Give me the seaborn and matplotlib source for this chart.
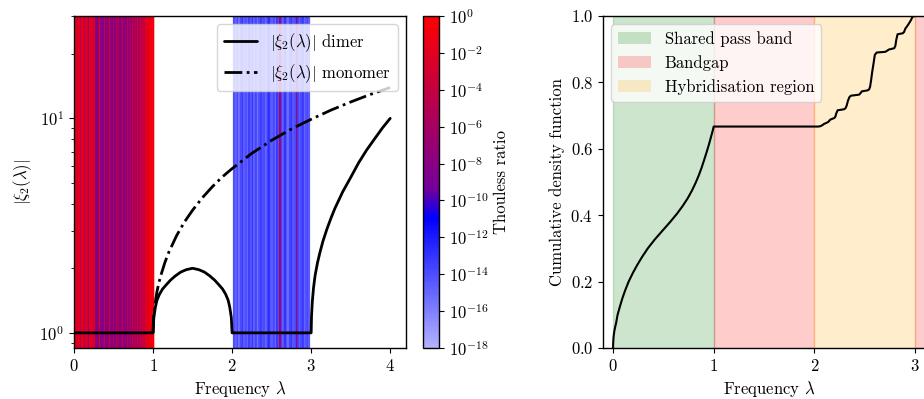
import numpy as np
import pandas as pd
import matplotlib
matplotlib.use("Agg")
import matplotlib.pyplot as plt
import seaborn as sns
from matplotlib.colors import LinearSegmentedColormap, LogNorm
from matplotlib.cm import ScalarMappable
from matplotlib.patches import Patch

# ---------------- data ----------------
dimer_freq = [0.00, 0.98, 1.00, 1.01, 1.03, 1.05, 1.08, 1.12, 1.17, 1.22, 1.28, 1.35, 1.42, 1.50,
              1.58, 1.65, 1.72, 1.78, 1.83, 1.88, 1.92, 1.95, 1.97, 1.99, 2.00, 2.02,
              2.99, 3.00, 3.005, 3.015, 3.03, 3.05, 3.08, 3.11, 3.15, 3.20, 3.25, 3.30,
              3.40, 3.50, 3.60, 3.70, 3.80, 3.90, 4.00]
dimer_xi = [1.00, 1.00, 1.00, 1.18, 1.32, 1.42, 1.51, 1.60, 1.68, 1.76, 1.84, 1.92, 1.97, 2.00,
            1.97, 1.92, 1.84, 1.76, 1.68, 1.60, 1.51, 1.42, 1.32, 1.18, 1.00, 1.00,
            1.00, 1.00, 1.20, 1.40, 1.62, 1.85, 2.12, 2.36, 2.68, 3.05, 3.42, 3.80,
            4.55, 5.30, 6.20, 7.10, 8.00, 9.00, 10.00]

monomer_freq = [1.00, 1.005, 1.01, 1.02, 1.03, 1.05, 1.075, 1.10, 1.15, 1.20, 1.30, 1.40, 1.50,
                1.625, 1.75, 1.875, 2.00, 2.25, 2.50, 2.75, 3.00, 3.25, 3.50, 3.75, 4.00]
monomer_xi = [1.00, 1.15, 1.22, 1.32, 1.40, 1.56, 1.72, 1.86, 2.13, 2.38, 2.85, 3.30, 3.73,
              4.27, 4.80, 5.33, 5.83, 6.87, 7.90, 8.92, 9.90, 10.92, 11.92, 12.93, 13.93]

band1_freq = [0.000, 0.004, 0.012, 0.022, 0.034, 0.047, 0.061, 0.076, 0.091, 0.106,
              0.122, 0.138, 0.154, 0.170, 0.186, 0.202, 0.218, 0.234, 0.250, 0.266,
              0.282, 0.298, 0.314, 0.330, 0.346, 0.362, 0.378, 0.394, 0.410, 0.426,
              0.442, 0.458, 0.474, 0.490, 0.506, 0.522, 0.538, 0.554, 0.570, 0.586,
              0.602, 0.618, 0.634, 0.650, 0.666, 0.682, 0.698, 0.714, 0.730, 0.746,
              0.762, 0.778, 0.794, 0.810, 0.826, 0.842, 0.858, 0.874, 0.890, 0.905,
              0.920, 0.934, 0.947, 0.959, 0.970, 0.980, 0.988, 0.994, 0.998, 1.000]
band1_log_ratio = [-0.3, -0.8, -1.2, -1.5, -1.0, -4.5, -1.3, -1.8, -6.0, -1.6,
                   -2.0, -6.5, -1.4, -2.2, -7.0, -1.7, -2.5, -1.9, -3.0, -1.5,
                   -8.0, -8.5, -7.5, -2.5, -8.2, -8.8, -7.8, -3.0, -8.5, -7.2,
                   -8.0, -2.8, -7.5, -8.6, -5.0, -8.0, -3.5, -7.8, -4.5, -8.4,
                   -7.0, -3.2, -8.2, -7.6, -8.8, -4.0, -7.4, -5.5, -8.0, -3.5,
                   -6.8, -4.8, -7.2, -3.0, -5.5, -2.5, -6.0, -3.0, -4.5, -2.0,
                   -1.2, -2.5, -1.0, -1.5, -0.8, -1.2, -0.6, -1.0, -0.5, -0.7]

band2_freq = [2.030, 2.050, 2.070, 2.091, 2.112, 2.133, 2.154, 2.175, 2.196, 2.217,
              2.238, 2.259, 2.280, 2.301, 2.322, 2.343, 2.364, 2.385, 2.406, 2.427,
              2.448, 2.469, 2.490, 2.511, 2.532, 2.553, 2.574, 2.595, 2.610, 2.628,
              2.649, 2.670, 2.691, 2.712, 2.733, 2.754, 2.775, 2.796, 2.815, 2.835,
              2.856, 2.877, 2.898, 2.919, 2.940, 2.960, 2.975]
band2_log_ratio = [-14.0, -14.8, -13.6, -15.3, -13.9, -13.2, -14.6, -14.0, -15.1, -13.4,
                   -14.3, -12.9, -14.7, -13.7, -15.5, -14.1, -13.3, -14.4, -13.8, -14.9,
                   -13.5, -12.8, -14.2, -14.6, -13.9, -15.3, -13.1, -14.3, -6.0, -13.6,
                   -14.5, -13.0, -14.1, -15.2, -13.7, -12.9, -14.4, -14.0, -6.0, -13.4,
                   -14.8, -13.8, -13.2, -15.0, -14.2, -13.6, -14.5]

cdf_freq = [0.000, 0.0005, 0.002, 0.005, 0.012, 0.020, 0.030, 0.045, 0.068, 0.093, 0.122,
            0.155, 0.195, 0.240, 0.290, 0.345, 0.415, 0.490, 0.563, 0.637, 0.690, 0.740,
            0.782, 0.820, 0.852, 0.880, 0.906, 0.930, 0.950, 0.965, 0.978, 0.988, 0.995,
            1.000,
            2.040, 2.060, 2.080, 2.092, 2.105, 2.120, 2.140, 2.150, 2.160, 2.185, 2.200,
            2.210, 2.218, 2.232, 2.295, 2.310, 2.322, 2.335, 2.350, 2.365, 2.445, 2.458,
            2.472, 2.530, 2.545, 2.555, 2.565, 2.575, 2.588, 2.602, 2.620, 2.705, 2.722,
            2.742, 2.795, 2.806, 2.815, 2.828, 2.880, 2.893, 2.905, 2.920, 2.940, 2.952,
            2.962, 2.975, 3.000]
cdf_value = [0.000, 0.010, 0.020, 0.033, 0.050, 0.062, 0.075, 0.100, 0.125, 0.150, 0.175,
             0.200, 0.225, 0.250, 0.275, 0.300, 0.327, 0.353, 0.378, 0.405, 0.427, 0.450,
             0.473, 0.497, 0.520, 0.543, 0.567, 0.590, 0.610, 0.626, 0.641, 0.652, 0.660,
             0.667,
             0.667, 0.668, 0.671, 0.674, 0.676, 0.678, 0.681, 0.685, 0.688, 0.691, 0.693,
             0.697, 0.706, 0.716, 0.719, 0.722, 0.730, 0.745, 0.756, 0.760, 0.763, 0.767,
             0.773, 0.776, 0.779, 0.787, 0.807, 0.830, 0.855, 0.883, 0.890, 0.892, 0.895,
             0.899, 0.903, 0.910, 0.928, 0.945, 0.948, 0.952, 0.962, 0.968, 0.977, 0.983,
             0.988, 0.997, 1.000]

region_labels = ["Shared pass band", "Bandgap", "Hybridisation region", None]
region_start = [0.0, 1.0, 2.0, 3.0]
region_end = [1.0, 2.0, 3.0, 4.5]
region_colors = ["green", "red", "orange", "red"]

cbar_ticks = [1e0, 1e-2, 1e-4, 1e-6, 1e-8, 1e-10, 1e-12, 1e-14, 1e-16, 1e-18]

# ---------------- style ----------------
sns.set_style("ticks")
plt.rcParams.update({
    "font.family": ["cmr10", "DejaVu Serif"],
    "mathtext.fontset": "cm",
    "axes.formatter.use_mathtext": True,
    "font.size": 12,
    "axes.labelsize": 12,
    "xtick.labelsize": 12,
    "ytick.labelsize": 12,
    "legend.fontsize": 12,
    "axes.linewidth": 1.0,
    "axes.edgecolor": "black",
    "axes.labelcolor": "black",
    "text.color": "black",
    "xtick.color": "black",
    "ytick.color": "black",
    "xtick.major.size": 3.5,
    "ytick.major.size": 3.5,
    "xtick.minor.size": 2.0,
    "ytick.minor.size": 2.0,
    "xtick.major.width": 0.8,
    "ytick.major.width": 0.8,
    "legend.framealpha": 0.8,
    "legend.edgecolor": "0.8",
    "legend.fancybox": True,
    "legend.frameon": True,
})

fig = plt.figure(figsize=(9.24, 3.99), dpi=100)
ax1 = fig.add_axes([74 / 924, 51 / 399, 332 / 924, 332 / 399])
cax = fig.add_axes([423 / 924, 51 / 399, 16 / 924, 332 / 399])
ax2 = fig.add_axes([603 / 924, 51 / 399, 332 / 924, 332 / 399])

cmap = LinearSegmentedColormap.from_list(
    "thouless",
    [(0.0, (0.70, 0.70, 1.0)), (0.39, (0.0, 0.0, 1.0)),
     (0.48, (0.45, 0.0, 0.6)), (1.0, (1.0, 0.0, 0.0))])
norm = LogNorm(vmin=1e-18, vmax=1.0)

# ---------------- left panel ----------------
ax1.set_yscale("log")
all_freq = np.array(band1_freq + band2_freq)
all_ratio = 10.0 ** np.array(band1_log_ratio + band2_log_ratio)
ax1.vlines(all_freq, 0, 1, transform=ax1.get_xaxis_transform(),
           colors=cmap(norm(all_ratio)), linewidth=1.6, zorder=1)

dimer_df = pd.DataFrame({"freq": dimer_freq, "xi": dimer_xi})
mono_df = pd.DataFrame({"freq": monomer_freq, "xi": monomer_xi})
sns.lineplot(data=dimer_df, x="freq", y="xi", ax=ax1, color="black", linewidth=2,
             sort=False, estimator=None, label=r"$|\xi_2(\lambda)|$ dimer", zorder=3)
sns.lineplot(data=mono_df, x="freq", y="xi", ax=ax1, color="black", linewidth=2,
             linestyle="-.", sort=False, estimator=None,
             label=r"$|\xi_2(\lambda)|$ monomer", zorder=3)
ax1.set_xlim(0, 4.2)
ax1.set_ylim(0.85, 30)
ax1.set_xticks([0, 1, 2, 3, 4])
ax1.set_xlabel(r"Frequency $\lambda$")
ax1.set_ylabel(r"$|\xi_2(\lambda)|$")
ax1.legend(loc="upper right")

cb = fig.colorbar(ScalarMappable(norm=norm, cmap=cmap), cax=cax)
cb.set_ticks(cbar_ticks)
cb.ax.minorticks_off()
cb.outline.set_linewidth(1.0)
cb.set_label("Thouless ratio")

# ---------------- right panel ----------------
handles = []
for label, lo, hi, col in zip(region_labels, region_start, region_end, region_colors):
    ax2.axvspan(lo, hi, color=col, alpha=0.2)
    if label:
        handles.append(Patch(facecolor=col, alpha=0.2, edgecolor="none", label=label))
cdf_df = pd.DataFrame({"freq": cdf_freq, "cdf": cdf_value})
sns.lineplot(data=cdf_df, x="freq", y="cdf", ax=ax2, color="black", linewidth=1.5,
             sort=False, estimator=None, zorder=3)
ax2.set_xlim(-0.1, 3.2)
ax2.set_ylim(0, 1)
ax2.set_xticks([0, 1, 2, 3])
ax2.set_yticks([0.0, 0.2, 0.4, 0.6, 0.8, 1.0])
ax2.set_xlabel(r"Frequency $\lambda$")
ax2.set_ylabel("Cumulative density function")
ax2.legend(handles=handles, loc="upper left")

fig.savefig("out.png", dpi=100)
